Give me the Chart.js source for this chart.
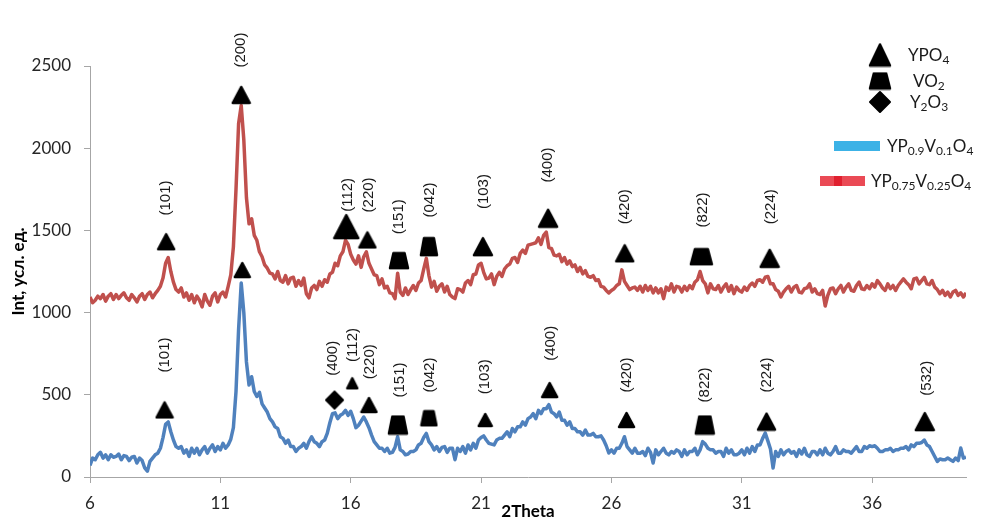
<!DOCTYPE html>
<html><head><meta charset="utf-8">
<script src="https://cdn.jsdelivr.net/npm/chart.js@4.4.0/dist/chart.umd.min.js"></script>
<style>html,body{margin:0;padding:0;background:#fff;}#wrap{width:982px;height:522px;position:relative;}</style>
</head><body><div id="wrap"><canvas id="c"></canvas></div>
<script>
// 2Theta sampling (degrees)
const theta = [
6.0,6.1,6.2,6.3,6.4,6.5,6.6,6.7,6.8,6.9, 7.0,7.1,7.2,7.3,7.4,7.5,7.6,7.7,7.8,7.9,
8.0,8.1,8.2,8.3,8.4,8.5,8.6,8.7,8.8,8.9, 9.0,9.1,9.2,9.3,9.4,9.5,9.6,9.7,9.8,9.9,
10.0,10.1,10.2,10.3,10.4,10.5,10.6,10.7,10.8,10.9, 11.0,11.1,11.2,11.3,11.4,11.5,11.6,11.7,11.8,11.9,
12.0,12.1,12.2,12.3,12.4,12.5,12.6,12.7,12.8,12.9, 13.0,13.1,13.2,13.3,13.4,13.5,13.6,13.7,13.8,13.9,
14.0,14.1,14.2,14.3,14.4,14.5,14.6,14.7,14.8,14.9, 15.0,15.1,15.2,15.3,15.4,15.5,15.6,15.7,15.8,15.9,
16.0,16.1,16.2,16.3,16.4,16.5,16.6,16.7,16.8,16.9, 17.0,17.1,17.2,17.3,17.4,17.5,17.6,17.7,17.8,17.9,
18.0,18.1,18.2,18.3,18.4,18.5,18.6,18.7,18.8,18.9, 19.0,19.1,19.2,19.3,19.4,19.5,19.6,19.7,19.8,19.9,
20.0,20.1,20.2,20.3,20.4,20.5,20.6,20.7,20.8,20.9, 21.0,21.1,21.2,21.3,21.4,21.5,21.6,21.7,21.8,21.9,
22.0,22.1,22.2,22.3,22.4,22.5,22.6,22.7,22.8,22.9, 23.0,23.1,23.2,23.3,23.4,23.5,23.6,23.7,23.8,23.9,
24.0,24.1,24.2,24.3,24.4,24.5,24.6,24.7,24.8,24.9, 25.0,25.1,25.2,25.3,25.4,25.5,25.6,25.7,25.8,25.9,
26.0,26.1,26.2,26.3,26.4,26.5,26.6,26.7,26.8,26.9, 27.0,27.1,27.2,27.3,27.4,27.5,27.6,27.7,27.8,27.9,
28.0,28.1,28.2,28.3,28.4,28.5,28.6,28.7,28.8,28.9, 29.0,29.1,29.2,29.3,29.4,29.5,29.6,29.7,29.8,29.9,
30.0,30.1,30.2,30.3,30.4,30.5,30.6,30.7,30.8,30.9, 31.0,31.1,31.2,31.3,31.4,31.5,31.6,31.7,31.8,31.9,
32.0,32.1,32.2,32.3,32.4,32.5,32.6,32.7,32.8,32.9, 33.0,33.1,33.2,33.3,33.4,33.5,33.6,33.7,33.8,33.9,
34.0,34.1,34.2,34.3,34.4,34.5,34.6,34.7,34.8,34.9, 35.0,35.1,35.2,35.3,35.4,35.5,35.6,35.7,35.8,35.9,
36.0,36.1,36.2,36.3,36.4,36.5,36.6,36.7,36.8,36.9, 37.0,37.1,37.2,37.3,37.4,37.5,37.6,37.7,37.8,37.9,
38.0,38.1,38.2,38.3,38.4,38.5,38.6,38.7,38.8,38.9, 39.0,39.1,39.2,39.3,39.4,39.5,39.6
];
// YP0.75V0.25O4 intensity
const intYP075 = [
1095,1060,1075,1100,1085,1110,1070,1100,1115,1080, 1110,1085,1105,1120,1090,1075,1110,1090,1065,1100,
1115,1080,1110,1125,1090,1115,1135,1160,1210,1300, 1335,1250,1185,1140,1125,1150,1095,1120,1075,1110,
1060,1100,1075,1035,1110,1070,1045,1100,1120,1065, 1110,1125,1095,1160,1230,1400,1750,2150,2260,2050,
1700,1540,1570,1470,1440,1370,1340,1290,1270,1240, 1235,1205,1250,1195,1185,1225,1175,1210,1215,1160,
1195,1165,1210,1115,1090,1150,1165,1140,1190,1160, 1200,1185,1235,1245,1300,1285,1345,1370,1440,1415,
1355,1320,1295,1345,1275,1340,1370,1300,1265,1230, 1225,1170,1205,1150,1160,1120,1115,1085,1240,1125,
1105,1150,1110,1140,1165,1135,1180,1195,1265,1330, 1225,1155,1190,1130,1160,1175,1125,1160,1110,1095,
1085,1145,1140,1125,1180,1195,1170,1230,1235,1290, 1300,1245,1205,1210,1235,1170,1220,1245,1220,1265,
1285,1295,1330,1335,1305,1360,1380,1360,1410,1415, 1420,1425,1455,1415,1470,1490,1395,1390,1350,1345,
1355,1310,1335,1295,1315,1280,1290,1250,1275,1235, 1255,1220,1215,1225,1195,1200,1160,1155,1135,1120,
1135,1145,1165,1175,1260,1190,1165,1140,1150,1155, 1135,1160,1125,1165,1135,1160,1120,1150,1120,1145,
1085,1155,1135,1175,1125,1160,1155,1125,1160,1135, 1165,1145,1185,1200,1250,1195,1175,1120,1175,1145,
1140,1165,1125,1155,1175,1130,1165,1115,1155,1135, 1125,1155,1135,1165,1180,1160,1195,1200,1185,1215,
1220,1175,1175,1140,1130,1095,1125,1145,1160,1125, 1155,1165,1125,1120,1145,1150,1175,1125,1145,1115,
1110,1135,1040,1105,1145,1150,1115,1145,1165,1125, 1155,1175,1135,1130,1165,1185,1145,1140,1165,1145,
1175,1155,1195,1175,1150,1135,1175,1145,1165,1135, 1165,1185,1205,1185,1170,1145,1205,1210,1175,1195,
1215,1175,1170,1195,1155,1140,1115,1135,1105,1125, 1095,1125,1135,1105,1120,1095,1120
];
// YP0.9V0.1O4 intensity
const intYP09 = [
70,115,105,135,150,115,135,105,135,120, 125,140,105,130,125,100,120,125,85,115,
100,55,35,95,115,135,145,175,240,320, 335,275,225,185,175,185,145,165,125,175,
145,175,135,165,185,145,175,195,155,185, 165,205,175,195,230,300,520,900,1180,1000,
700,560,610,520,490,515,445,420,395,355, 335,305,295,245,235,205,225,185,185,155,
175,185,205,175,215,245,215,205,185,215, 225,265,330,385,390,355,375,385,405,375,
400,355,300,315,340,365,335,300,255,215, 195,175,175,155,175,145,150,180,245,165,
155,135,140,155,155,165,195,205,240,265, 215,195,165,185,155,180,185,150,175,175,
105,175,155,185,145,195,165,205,175,225, 240,250,225,205,200,195,225,235,235,255,
275,245,295,275,305,305,335,315,355,365, 385,355,405,385,415,415,440,395,385,365,
395,345,345,315,335,295,295,275,275,255, 285,255,255,265,245,245,250,225,190,146,
165,145,175,175,205,245,185,165,145,175, 145,145,155,130,175,150,85,165,135,155,
175,145,135,155,145,165,155,125,165,135, 155,155,175,135,165,215,200,175,165,165,
145,155,155,125,175,145,165,135,135,145, 165,135,175,145,185,155,195,195,235,267,
220,170,55,155,125,165,135,155,165,145, 155,125,165,140,175,135,125,155,155,135,
165,135,175,145,135,155,185,145,145,165, 155,155,145,165,185,155,155,185,175,190,
185,190,175,155,155,165,165,175,155,165, 165,175,175,185,165,195,185,205,205,210,
225,195,185,155,125,95,110,105,105,115, 105,95,115,100,176,115,120
];
const xTicks = [6, 11, 16, 21, 26, 31, 36];
const yTicks = [0, 500, 1000, 1500, 2000, 2500];
// phase markers (2Theta, intensity)
const ypo4X = [8.92, 11.8, 15.83, 16.64, 21.07, 23.57, 26.51, 32.07, 8.86, 11.84, 16.06, 16.7, 21.16, 23.63, 26.58, 31.95, 38.02];
const ypo4Y = [1431, 2324, 1523, 1442, 1401, 1574, 1361, 1330, 408, 1259, 570, 438, 347, 529, 347, 337, 337];
const vo2X = [17.85, 19.0, 29.45, 17.81, 19.0, 29.58];
const vo2Y = [1316, 1401, 1340, 316, 357, 316];
const y2o3X = [15.38];
const y2o3Y = [468];
// Miller index labels
const hklText = ['(101)','(200)','(112)','(220)','(151)','(042)','(103)','(400)','(420)','(822)','(224)',
                 '(101)','(400)','(112)','(220)','(151)','(042)','(103)','(400)','(420)','(822)','(224)','(532)'];
const hklX = [8.92, 11.8, 15.88, 16.7, 17.85, 19.05, 21.1, 23.57, 26.51, 29.5, 32.1,
              8.86, 15.3, 16.08, 16.75, 17.9, 19.05, 21.14, 23.68, 26.6, 29.6, 31.95, 38.09];
const hklY = [1697, 2597, 1716, 1716, 1583, 1685, 1736, 1898, 1644, 1624, 1644,
              742, 722, 803, 701, 590, 620, 610, 813, 620, 560, 620, 600];
// legend texts: [text, isSubscript]
const phaseNames = [[['YPO',0],['4',1]], [['VO',0],['2',1]], [['Y',0],['2',1],['O',0],['3',1]]];
const seriesNames = [[['YP',0],['0.9',1],['V',0],['0.1',1],['O',0],['4',1]],
                     [['YP',0],['0.75',1],['V',0],['0.25',1],['O',0],['4',1]]];

// ---- marker images ----
function makeTri(w, h) {
  const c = document.createElement('canvas'); c.width = w + 4; c.height = h + 4;
  const g = c.getContext('2d'); g.fillStyle = '#000'; g.strokeStyle = '#000'; g.lineWidth = 2.5; g.lineJoin = 'round';
  g.beginPath(); g.moveTo(c.width / 2, 2); g.lineTo(w + 2, h + 2); g.lineTo(2, h + 2); g.closePath(); g.fill(); g.stroke();
  return c;
}
function makeTrap(w, h) {
  const c = document.createElement('canvas'); c.width = w + 4; c.height = h + 4;
  const g = c.getContext('2d'); g.fillStyle = '#000'; g.strokeStyle = '#000'; g.lineWidth = 2.5; g.lineJoin = 'round';
  const tw = w * 0.62, cx = c.width / 2;
  g.beginPath(); g.moveTo(cx - tw / 2, 2); g.lineTo(cx + tw / 2, 2); g.lineTo(w + 2, h + 2); g.lineTo(2, h + 2); g.closePath(); g.fill(); g.stroke();
  return c;
}
function makeDia(s) {
  const c = document.createElement('canvas'); c.width = s + 4; c.height = s + 4;
  const g = c.getContext('2d'); g.fillStyle = '#000'; g.strokeStyle = '#000'; g.lineWidth = 2; g.lineJoin = 'round';
  const m = c.width / 2;
  g.beginPath(); g.moveTo(m, 2); g.lineTo(s + 2, m); g.lineTo(m, s + 2); g.lineTo(2, m); g.closePath(); g.fill(); g.stroke();
  return c;
}
const triW = [16, 17, 24, 16, 18, 18, 17, 18, 16, 15, 10, 15, 13, 15, 15, 17, 18];
const triImgs = triW.map(w => makeTri(w, Math.round(w * 0.95)));
const trapWH = [[18, 15], [16, 17], [21, 15], [18, 17], [15, 14], [18, 17]];
const trapImgs = trapWH.map(d => makeTrap(d[0], d[1]));
const diaImgs = [makeDia(17)];

const hklPlugin = {
  id: 'hkl',
  afterDatasetsDraw(chart) {
    const { ctx, scales: { x, y } } = chart;
    ctx.save();
    ctx.font = '15px "Liberation Sans"'; ctx.fillStyle = '#1a1a1a'; ctx.textAlign = 'center'; ctx.textBaseline = 'middle';
    hklText.forEach((t, i) => {
      ctx.save();
      ctx.translate(x.getPixelForValue(hklX[i]), y.getPixelForValue(hklY[i]));
      ctx.rotate(-Math.PI / 2);
      ctx.fillText(t, 0, 0);
      ctx.restore();
    });
    ctx.restore();
  }
};
function rich(ctx, segs, x, y, big, small) {
  let cx = x;
  segs.forEach(([t, sub]) => {
    ctx.font = (sub ? small : big) + 'px Lato';
    ctx.fillText(t, cx, sub ? y + 3 : y);
    cx += ctx.measureText(t).width;
  });
}
const legendPlugin = {
  id: 'customLegend',
  afterDraw(chart) {
    const ctx = chart.ctx;
    ctx.save();
    const mk = [makeTri(20, 21), makeTrap(20, 15), makeDia(20)];
    const my = [55, 81, 102], tx = [908, 913, 910];
    mk.forEach((im, i) => ctx.drawImage(im, 880 - im.width / 2, my[i] - im.height / 2));
    ctx.fillStyle = '#1a1a1a'; ctx.textBaseline = 'alphabetic'; ctx.textAlign = 'left';
    phaseNames.forEach((s, i) => rich(ctx, s, tx[i], my[i] + 6, 17, 12));
    ctx.fillStyle = '#3cb2e6'; ctx.fillRect(834, 141, 46, 10);
    ctx.fillStyle = '#ea4a55'; ctx.fillRect(820, 176, 45, 10);
    ctx.fillStyle = '#e0202f'; ctx.fillRect(834, 176, 8, 10);
    ctx.fillStyle = '#1a1a1a';
    rich(ctx, seriesNames[0], 887, 152, 17, 12);
    rich(ctx, seriesNames[1], 871, 187, 17, 12);
    ctx.restore();
  }
};

const pts = arr => theta.map((t, i) => ({ x: t, y: arr[i] }));
const xy = (xs, ys) => xs.map((v, i) => ({ x: v, y: ys[i] }));

new Chart(document.getElementById('c'), {
  type: 'scatter',
  data: {
    datasets: [
      { label: 'YPO4', data: xy(ypo4X, ypo4Y), pointStyle: triImgs, pointRadius: 8, order: 0 },
      { label: 'VO2', data: xy(vo2X, vo2Y), pointStyle: trapImgs, pointRadius: 8, order: 0 },
      { label: 'Y2O3', data: xy(y2o3X, y2o3Y), pointStyle: diaImgs, pointRadius: 8, order: 0 },
      { label: 'YP0.9V0.1O4', data: pts(intYP09), showLine: true, borderColor: '#4f81bd', borderWidth: 3.5, pointRadius: 0, borderJoinStyle: 'round', order: 2 },
      { label: 'YP0.75V0.25O4', data: pts(intYP075), showLine: true, borderColor: '#c0504d', borderWidth: 3.5, pointRadius: 0, borderJoinStyle: 'round', order: 1 }
    ]
  },
  options: {
    responsive: true, maintainAspectRatio: false, animation: false,
    layout: { padding: { top: 66, right: 16, left: 0, bottom: 0 } },
    plugins: { legend: { display: false }, tooltip: { enabled: false } },
    scales: {
      x: {
        type: 'linear', min: 6, max: 39.6,
        afterBuildTicks: s => { s.ticks = xTicks.map(v => ({ value: v })); },
        afterFit: s => { s.height = 45; },
        grid: { display: true, drawOnChartArea: false, drawTicks: true, tickLength: 6, color: '#a6a6a6' },
        border: { color: '#a6a6a6', width: 1 },
        ticks: { font: { family: 'Lato', size: 17 }, color: '#262626', padding: 10, maxRotation: 0, callback: v => String(v) },
        title: { display: true, text: '2Theta', font: { family: 'Lato', size: 17, weight: 'bold' }, color: '#000', padding: { top: 0, bottom: 0 } }
      },
      y: {
        min: 0, max: 2500,
        afterBuildTicks: s => { s.ticks = yTicks.map(v => ({ value: v })); },
        afterFit: s => { s.width = 90; },
        grid: { display: true, drawOnChartArea: false, drawTicks: true, tickLength: 6, color: '#a6a6a6' },
        border: { color: '#a6a6a6', width: 1 },
        ticks: { font: { family: 'Lato', size: 17 }, color: '#262626', padding: 13, callback: v => String(v) },
        title: { display: true, text: 'Int, усл. ед.', font: { family: 'Lato', size: 17, weight: 'bold' }, color: '#000', padding: { top: 8, bottom: 0 } }
      }
    }
  },
  plugins: [hklPlugin, legendPlugin]
});
</script></body></html>
